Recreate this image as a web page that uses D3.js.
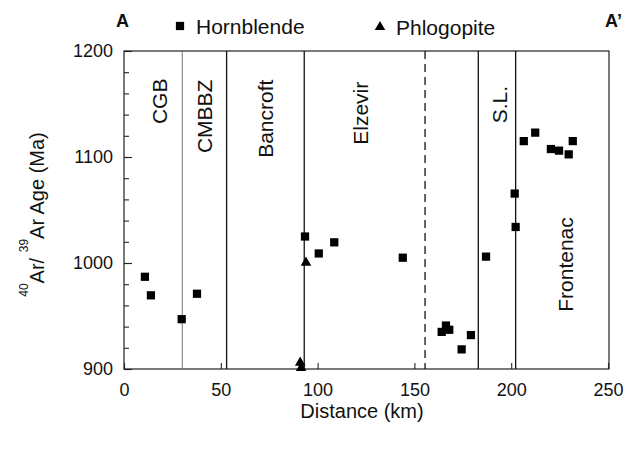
<!DOCTYPE html>
<html>
<head>
<meta charset="utf-8">
<script src="https://cdn.jsdelivr.net/npm/d3@7"></script>
<style>
  body { margin: 0; background: #fff; }
  text { font-family: "Liberation Sans", Arial, Helvetica, sans-serif; fill: #111; }
</style>
</head>
<body>
<div id="chart"></div>
<script>
// ---------------------------------------------------------------------------
// DATA
// ---------------------------------------------------------------------------
const hornblende = [
  [10.8, 987], [13.9, 969.5], [29.8, 947], [37.7, 971],
  [93.5, 1025], [100.6, 1009], [108.6, 1019.5], [144.0, 1005],
  [164.1, 935], [166.3, 941], [168.0, 937], [174.4, 918.5], [179.2, 932],
  [187.0, 1006], [202.3, 1034], [201.8, 1065.5],
  [206.5, 1115], [212.4, 1123], [220.5, 1107.5], [224.7, 1106],
  [229.7, 1102.5], [231.8, 1115]
];
const phlogopite = [[94.0, 1000.3], [91.0, 906], [91.5, 901]];

// terrane boundaries (km) and style
const boundaries = [
  { km: 30.1, style: "thin" },
  { km: 53.0, style: "solid" },
  { km: 93.1, style: "solid" },
  { km: 155.5, style: "dashed" },
  { km: 183.0, style: "solid" },
  { km: 202.3, style: "solid" }
];

// terrane labels: km position of baseline, age at which the label anchors
const terranes = [
  { name: "CGB", km: 22.2, age: 1174, anchor: "end" },
  { name: "CMBBZ", km: 45.5, age: 1173, anchor: "end" },
  { name: "Bancroft", km: 77.0, age: 1173, anchor: "end" },
  { name: "Elzevir", km: 126.0, age: 1171, anchor: "end" },
  { name: "S.L.", km: 197.8, age: 1167, anchor: "end" },
  { name: "Frontenac", km: 231.9, age: 954, anchor: "start" }
];

const xTicks = [0, 50, 100, 150, 200, 250];
const yMajor = [900, 1000, 1100, 1200];
const yMinor = d3.range(900, 1201, 20);

// ---------------------------------------------------------------------------
// SETUP
// ---------------------------------------------------------------------------
const W = 627, H = 450;
const x = d3.scaleLinear().domain([0, 250]).range([124, 608]);
const y = d3.scaleLinear().domain([900, 1200]).range([369, 51]);

const svg = d3.select("#chart").append("svg")
  .attr("width", W).attr("height", H);

// ---------------------------------------------------------------------------
// AXES
// ---------------------------------------------------------------------------
const gyMinor = svg.append("g").attr("transform", `translate(${x(0)},0)`)
  .call(d3.axisLeft(y).tickValues(yMinor).tickSizeInner(-5).tickSizeOuter(0).tickFormat(""));
const gy = svg.append("g").attr("transform", `translate(${x(0)},0)`)
  .call(d3.axisLeft(y).tickValues(yMajor).tickSizeInner(-8).tickSizeOuter(0)
    .tickPadding(11).tickFormat(d3.format("d")));
gy.selectAll("text").style("font-size", "18px");

const gx = svg.append("g").attr("transform", `translate(0,${y(900)})`)
  .call(d3.axisBottom(x).tickValues(xTicks).tickSizeInner(-6).tickSizeOuter(0)
    .tickPadding(14).tickFormat(d3.format("d")));
gx.selectAll("text").style("font-size", "18px");

[gyMinor, gy, gx].forEach(g => {
  g.select(".domain").remove();
  g.selectAll("line").attr("stroke", "#222").attr("stroke-width", 1.1);
});

// frame
svg.append("rect")
  .attr("x", x(0)).attr("y", y(1200))
  .attr("width", x(250) - x(0) + 1).attr("height", y(900) - y(1200))
  .attr("fill", "none").attr("stroke", "#222").attr("stroke-width", 1.2);

// ---------------------------------------------------------------------------
// BOUNDARIES + LABELS
// ---------------------------------------------------------------------------
svg.append("g").selectAll("line")
  .data(boundaries)
  .join("line")
  .attr("x1", d => x(d.km)).attr("x2", d => x(d.km))
  .attr("y1", y(1200)).attr("y2", y(900))
  .attr("stroke", d => d.style === "thin" ? "#666" : "#111")
  .attr("stroke-width", d => d.style === "thin" ? 0.9 : 1.3)
  .attr("stroke-dasharray", d => d.style === "dashed" ? "8,5" : null);

svg.append("g").selectAll("text")
  .data(terranes)
  .join("text")
  .attr("transform", d => `translate(${x(d.km)},${y(d.age)}) rotate(-90)`)
  .attr("text-anchor", d => d.anchor)
  .style("font-size", "21px")
  .text(d => d.name);

// ---------------------------------------------------------------------------
// POINTS
// ---------------------------------------------------------------------------
const sq = d3.symbol().type(d3.symbolSquare).size(68);
const tri = d3.symbol().type(d3.symbolTriangle).size(48);

svg.append("g").selectAll("path")
  .data(hornblende)
  .join("path")
  .attr("transform", d => `translate(${x(d[0])},${y(d[1])})`)
  .attr("d", sq)
  .attr("fill", "#000");

svg.append("g").selectAll("path")
  .data(phlogopite)
  .join("path")
  .attr("transform", d => `translate(${x(d[0])},${y(d[1])})`)
  .attr("d", tri)
  .attr("fill", "#000");

// ---------------------------------------------------------------------------
// LEGEND, TITLES
// ---------------------------------------------------------------------------
svg.append("path").attr("transform", "translate(180,26)").attr("d", sq).attr("fill", "#000");
svg.append("text").attr("x", 196).attr("y", 34).style("font-size", "21px").text("Hornblende");
svg.append("path").attr("transform", "translate(380,27)").attr("d", tri).attr("fill", "#000");
svg.append("text").attr("x", 396).attr("y", 35).style("font-size", "21px").text("Phlogopite");

svg.append("text").attr("x", 116).attr("y", 27)
  .style("font-size", "18px").style("font-weight", "bold").text("A");
svg.append("text").attr("x", 605).attr("y", 27)
  .style("font-size", "18px").style("font-weight", "bold").text("A\u2019");

svg.append("text").attr("x", 362).attr("y", 418)
  .attr("text-anchor", "middle").style("font-size", "20px").text("Distance (km)");

const yt = svg.append("text")
  .attr("transform", "translate(43.5,214.5) rotate(-90)")
  .attr("text-anchor", "middle")
  .style("font-size", "20px");
yt.append("tspan").style("font-size", "12px").attr("dy", -16).text("40");
yt.append("tspan").attr("dy", 16).text("Ar/ ");
yt.append("tspan").style("font-size", "12px").attr("dy", -16).text("39");
yt.append("tspan").attr("dy", 16).text("Ar Age (Ma)");
</script>
</body>
</html>
